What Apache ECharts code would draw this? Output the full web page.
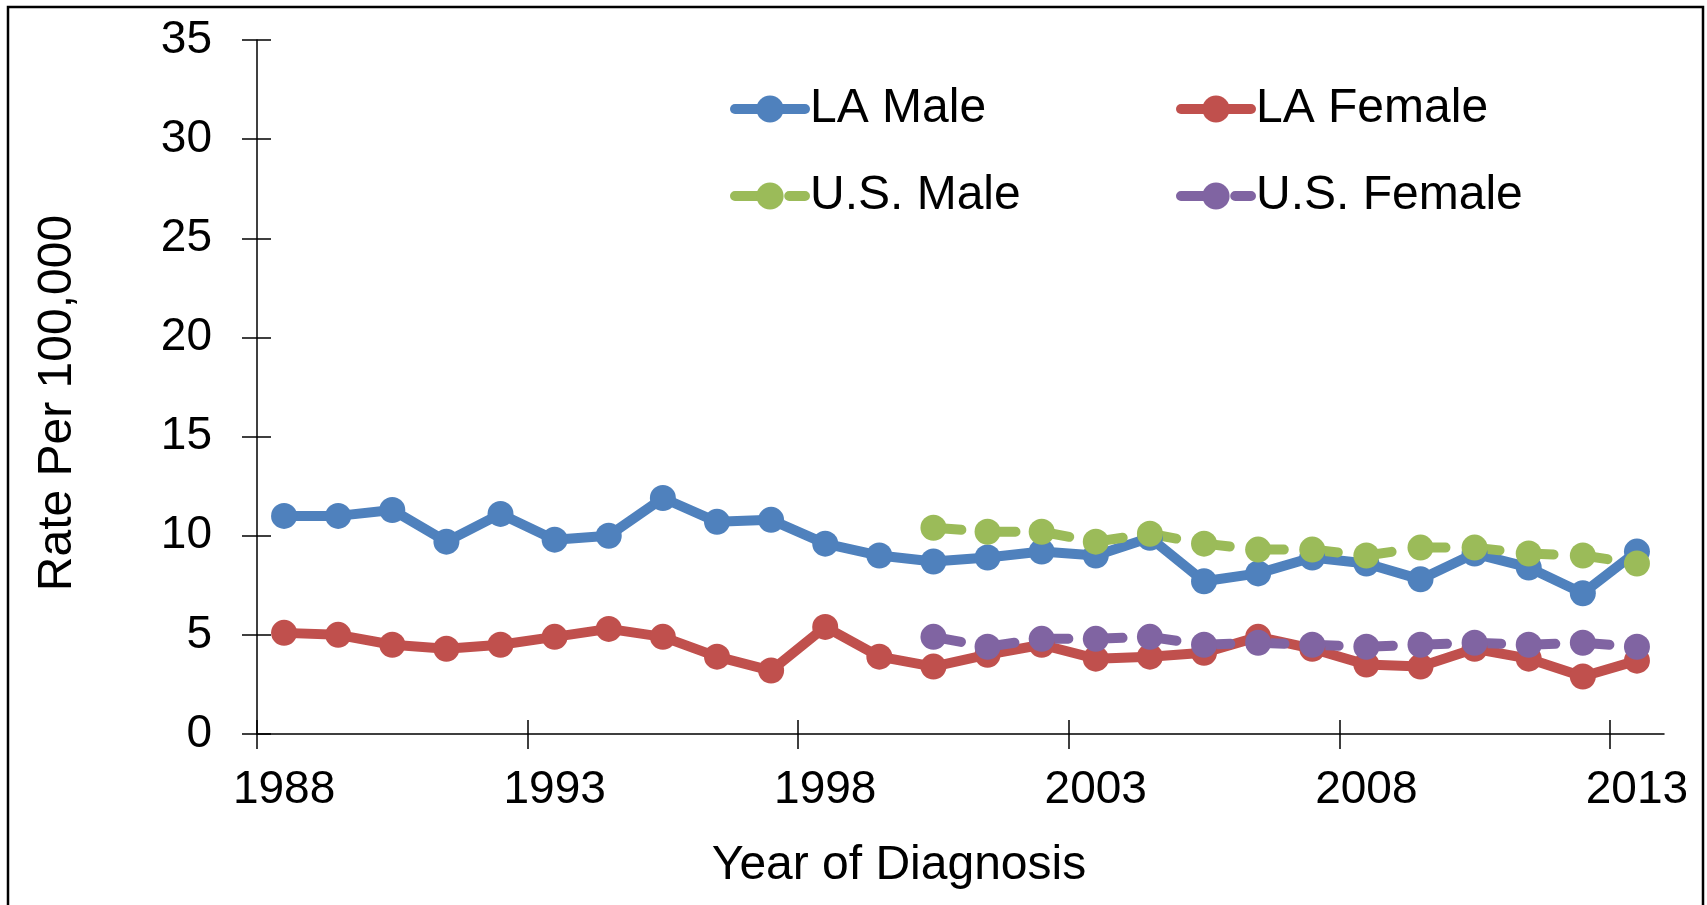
<!DOCTYPE html>
<html>
<head>
<meta charset="utf-8">
<title>Rate Per 100,000</title>
<script src="https://cdn.jsdelivr.net/npm/echarts@6/dist/echarts.min.js"></script>
<style>
  html, body { margin: 0; padding: 0; background: #fff; }
  #chart { width: 1707px; height: 905px; }
</style>
</head>
<body>
<div id="chart"></div>
<script>
// 数据
var years = ['1988', '1989', '1990', '1991', '1992', '1993', '1994', '1995', '1996', '1997', '1998', '1999', '2000',
  '2001', '2002', '2003', '2004', '2005', '2006', '2007', '2008', '2009', '2010', '2011', '2012', '2013']

var laMale = [11.0, 11.0, 11.3, 9.7, 11.1, 9.8, 10.0, 11.9, 10.7, 10.8, 9.6, 9.0, 8.7,
  8.9, 9.2, 9.0, 9.9, 7.7, 8.1, 8.9, 8.6, 7.8, 9.1, 8.4, 7.1, 9.2]
var laFemale = [5.1, 5.0, 4.5, 4.3, 4.5, 4.9, 5.3, 4.9, 3.9, 3.2, 5.4, 3.9, 3.4,
  4.0, 4.5, 3.8, 3.9, 4.1, 4.9, 4.3, 3.5, 3.4, 4.3, 3.8, 2.9, 3.7]
// 美国数据从2000年开始
var usMale = [null, null, null, null, null, null, null, null, null, null, null, null, 10.4,
  10.2, 10.2, 9.7, 10.1, 9.6, 9.3, 9.3, 9.0, 9.4, 9.4, 9.1, 9.0, 8.6]
var usFemale = [null, null, null, null, null, null, null, null, null, null, null, null, 4.9,
  4.4, 4.8, 4.8, 4.9, 4.5, 4.6, 4.5, 4.4, 4.5, 4.6, 4.5, 4.6, 4.4]

var yTicks = [0, 5, 10, 15, 20, 25, 30, 35]
var xTickIdx = [0, 5, 10, 15, 20, 25]   // 刻度在类目边界上

var FONT = '"Liberation Sans", Arial, sans-serif'
var colors = { laMale: '#4F81BD', laFemale: '#C0504D', usMale: '#9BBB59', usFemale: '#8064A2' }
var black = '#000'

var myChart = echarts.init(document.getElementById('chart'))

function tickAxis(inside, len) {
  // 只画刻度的数值轴，用来做穿过轴线的十字刻度
  return {
    type: 'value', position: 'bottom', min: 0, max: years.length,
    axisLine: { show: false, onZero: false },
    axisLabel: { show: false },
    splitLine: { show: false },
    axisTick: { show: true, inside: inside, length: len, customValues: xTickIdx, lineStyle: { color: black, width: 1.5 } }
  }
}

function lineSeries(name, data, color, dashed) {
  return {
    name: name,
    type: 'line',
    data: data,
    xAxisIndex: 0,
    yAxisIndex: 0,
    symbol: 'circle',
    symbolSize: 26,
    showSymbol: true,
    connectNulls: false,
    itemStyle: { color: color },
    lineStyle: { color: color, width: 10, type: dashed ? [28, 26.2] : 'solid', cap: 'round', join: 'round' },
    emphasis: { disabled: true },
    animation: false
  }
}

var legendText = { fontSize: 48, lineHeight: 50, color: black, fontFamily: FONT }

function legendCol(names, left) {
  return {
    data: names, orient: 'vertical', left: left, top: 84, padding: 0,
    itemWidth: 70, itemHeight: 34, itemGap: 37, selectedMode: false,
    textStyle: legendText, lineStyle: { width: 10, cap: 'round' }
  }
}

var option = {
  backgroundColor: '#fff',
  animation: false,
  grid: { left: 257, right: 43, top: 40, bottom: 171, containLabel: false, outerBoundsMode: 'none' },
  legend: [
    legendCol(['LA Male', 'U.S. Male'], 730),
    legendCol(['LA Female', 'U.S. Female'], 1176)
  ],
  xAxis: [
    {
      type: 'category', data: years, boundaryGap: true, position: 'bottom',
      axisLine: { show: true, onZero: false, lineStyle: { color: black, width: 1.5 } },
      axisTick: { show: false },
      axisLabel: { interval: 4, margin: 33, fontSize: 46, color: black, fontFamily: FONT },
      splitLine: { show: false }
    },
    tickAxis(false, 15),
    tickAxis(true, 14)
  ],
  yAxis: [
    {
      type: 'value', min: yTicks[0], max: yTicks[yTicks.length - 1], interval: 5, position: 'left',
      axisLine: { show: true, onZero: false, lineStyle: { color: black, width: 1.5 } },
      axisTick: { show: true, length: 15, lineStyle: { color: black, width: 1.5 } },
      axisLabel: { margin: 45, fontSize: 46, color: black, fontFamily: FONT },
      splitLine: { show: false }
    },
    {
      type: 'value', min: yTicks[0], max: yTicks[yTicks.length - 1], interval: 5, position: 'left',
      axisLine: { show: false, onZero: false },
      axisTick: { show: true, inside: true, length: 14, lineStyle: { color: black, width: 1.5 } },
      axisLabel: { show: false },
      splitLine: { show: false }
    }
  ],
  graphic: [
    {
      type: 'rect', shape: { x: 8, y: 7, width: 1695, height: 960 }, silent: true,
      style: { fill: 'none', stroke: black, lineWidth: 2.5 }
    },
    {
      type: 'text', x: 58, y: 403, rotation: Math.PI / 2, silent: true,
      style: { text: 'Rate Per 100,000', font: '48px ' + FONT, fill: black, align: 'center', verticalAlign: 'middle' }
    },
    {
      type: 'text', x: 899, y: 866, silent: true,
      style: { text: 'Year of Diagnosis', font: '48px ' + FONT, fill: black, align: 'center', verticalAlign: 'middle' }
    }
  ],
  series: [
    lineSeries('LA Male', laMale, colors.laMale, false),
    lineSeries('LA Female', laFemale, colors.laFemale, false),
    lineSeries('U.S. Male', usMale, colors.usMale, true),
    lineSeries('U.S. Female', usFemale, colors.usFemale, true)
  ]
}

myChart.setOption(option)
</script>
</body>
</html>
